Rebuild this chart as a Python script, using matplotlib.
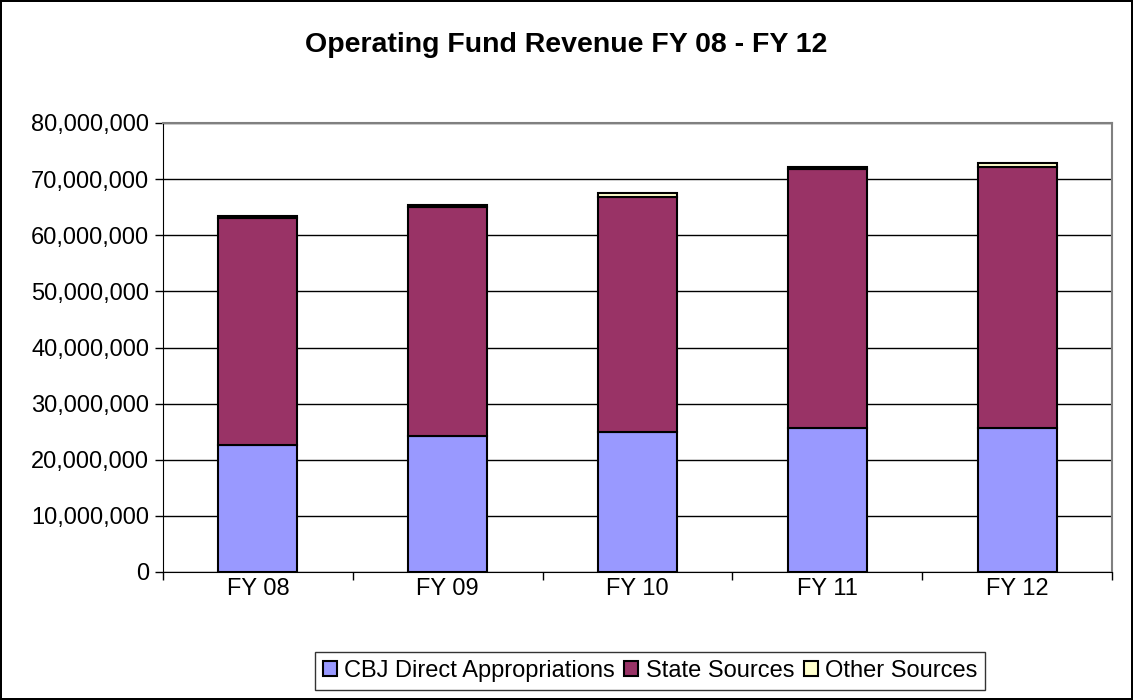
import numpy as np
import matplotlib.pyplot as plt
from matplotlib.ticker import FuncFormatter, FixedLocator

plt.rcParams['font.family'] = ['Liberation Sans', 'DejaVu Sans']

years = ['FY 08', 'FY 09', 'FY 10', 'FY 11', 'FY 12']
cbj = [22_600_000, 24_200_000, 24_900_000, 25_600_000, 25_600_000]
state = [40_500_000, 40_800_000, 42_000_000, 46_200_000, 46_600_000]
other = [400_000, 400_000, 700_000, 400_000, 700_000]
series_names = ['CBJ Direct Appropriations', 'State Sources', 'Other Sources']
colors = ['#9999FF', '#993366', '#FFFFCC']

fig = plt.figure(figsize=(11.33, 7), dpi=100)
fig.patch.set_edgecolor('black')
fig.patch.set_linewidth(1.5)

ax = fig.add_axes([163 / 1133, 1 - 572 / 700, (1112 - 163) / 1133, (572 - 123) / 700])
x = np.arange(len(years))
w = 0.416
bottom = np.zeros(len(years))
for vals, name, c in zip([cbj, state, other], series_names, colors):
    ax.bar(x, vals, w, bottom=bottom, color=c, edgecolor='black', linewidth=1.5,
           label=name, zorder=3)
    bottom += np.array(vals)

ax.set_xlim(-0.5, len(years) - 0.5)
ax.set_ylim(0, 80_000_000)
ax.set_yticks(np.arange(0, 80_000_001, 10_000_000))
ax.yaxis.set_major_formatter(FuncFormatter(lambda v, p: f'{int(v):,}'))
ax.yaxis.grid(True, color='black', linewidth=1, zorder=0)
ax.set_xticks(x)
ax.set_xticklabels(years)
ax.xaxis.set_minor_locator(FixedLocator(np.arange(-0.5, len(years), 1)))
ax.tick_params(axis='x', which='major', length=0, pad=4, labelsize=17)
ax.tick_params(axis='x', which='minor', length=6, width=1, color='black')
ax.tick_params(axis='y', length=6, width=1, labelsize=17, pad=4)
for s in ['top', 'right']:
    ax.spines[s].set_color('#808080')
    ax.spines[s].set_linewidth(1.5)
ax.spines['left'].set_color('black')
ax.spines['bottom'].set_color('black')
ax.set_axisbelow(True)

fig.text(0.5, 1 - 45 / 700, 'Operating Fund Revenue FY 08 - FY 12', ha='center', va='center',
         fontsize=20.5, fontweight='bold')

leg = fig.legend(loc='center', bbox_to_anchor=(650 / 1133, 1 - 671 / 700), ncol=3,
                 fontsize=17, frameon=True, fancybox=False, edgecolor='black',
                 handlelength=0.6, handleheight=0.6, handletextpad=0.3, columnspacing=0.4,
                 borderpad=0.35)
leg.get_frame().set_linewidth(1)

fig.savefig('out.png', dpi=100, edgecolor=fig.get_edgecolor())
